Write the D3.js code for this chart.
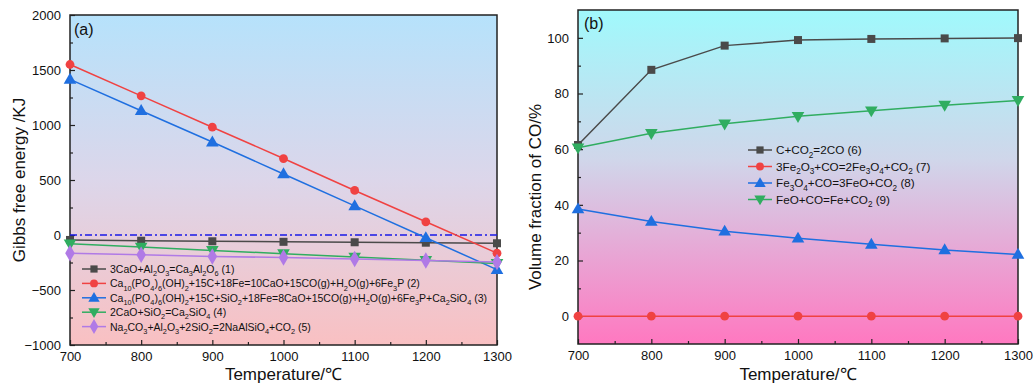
<!DOCTYPE html>
<html><head><meta charset="utf-8">
<script src="https://cdn.jsdelivr.net/npm/d3@7"></script>
<style>body{margin:0;background:#fff}text{font-family:"Liberation Sans",Arial,sans-serif;fill:#111}</style>
</head><body><svg id="c" width="1035" height="385"></svg>
<script>
const temps = [700, 800, 900, 1000, 1100, 1200, 1300];
// panel (a) Gibbs free energy /KJ
const gA1 = [-45, -52, -57, -62, -66, -70, -75];
const gA2 = [1550, 1265, 980, 695, 405, 120, -165];
const gA3 = [1415, 1130, 845, 555, 265, -25, -315];
const gA4 = [-80, -110, -140, -170, -200, -230, -258];
const gA5 = [-165, -180, -195, -205, -218, -232, -245];
const legendA = ["3CaO+Al_{2}O_{3}=Ca_{3}Al_{2}O_{6} (1)",
  "Ca_{10}(PO_{4})_{6}(OH)_{2}+15C+18Fe=10CaO+15CO(g)+H_{2}O(g)+6Fe_{3}P (2)",
  "Ca_{10}(PO_{4})_{6}(OH)_{2}+15C+SiO_{2}+18Fe=8CaO+15CO(g)+H_{2}O(g)+6Fe_{3}P+Ca_{2}SiO_{4} (3)",
  "2CaO+SiO_{2}=Ca_{2}SiO_{4} (4)",
  "Na_{2}CO_{3}+Al_{2}O_{3}+2SiO_{2}=2NaAlSiO_{4}+CO_{2} (5)"];
// panel (b) Volume fraction of CO /%
const vB6 = [61.5, 88.5, 97.2, 99.2, 99.6, 99.8, 99.9];
const vB7 = [0, 0, 0, 0, 0, 0, 0];
const vB8 = [38.5, 34, 30.5, 28, 25.8, 23.8, 22.2];
const vB9 = [60.5, 65.7, 69.1, 71.8, 73.8, 75.8, 77.5];
const legendB = ["C+CO_{2}=2CO (6)", "3Fe_{2}O_{3}+CO=2Fe_{3}O_{4}+CO_{2} (7)",
  "Fe_{3}O_{4}+CO=3FeO+CO_{2} (8)", "FeO+CO=Fe+CO_{2} (9)"];
const xTicks = [700, 800, 900, 1000, 1100, 1200, 1300];
const yTicksA = [-1000, -500, 0, 500, 1000, 1500, 2000];
const yTicksB = [0, 20, 40, 60, 80, 100];

const svg = d3.select("#c");
const defs = svg.append("defs");
function grad(id, stops) {
  const g = defs.append("linearGradient").attr("id", id).attr("x1", 0).attr("y1", 0).attr("x2", 0).attr("y2", 1);
  stops.forEach(s => g.append("stop").attr("offset", s[0]).attr("stop-color", s[1]));
}
grad("gA", [[0, "#b6e2fb"], [0.5, "#dcd6ea"], [1, "#f9c0c2"]]);
grad("gB", [[0, "#a0f9fc"], [0.45, "#d0d6ea"], [1, "#ff78c0"]]);

const colors = { grey: "#4a4a4a", red: "#f04242", blue: "#1f6fe0", green: "#30ad60", purple: "#b07ae6" };

function richText(sel, str, fs) {
  const parts = str.split(/(_\{[^}]*\})/);
  let sub = false;
  parts.forEach(p => {
    if (!p) return;
    if (p.startsWith("_{")) {
      sel.append("tspan").attr("dy", fs * 0.3).attr("font-size", fs * 0.7).text(p.slice(2, -1));
      sub = true;
    } else {
      const t = sel.append("tspan").attr("font-size", fs).text(p);
      if (sub) { t.attr("dy", -fs * 0.3); sub = false; }
    }
  });
}

function marker(g, shape, x, y, color, s) {
  if (shape === "square") g.append("rect").attr("x", x - s).attr("y", y - s).attr("width", 2 * s).attr("height", 2 * s).attr("fill", color);
  else if (shape === "circle") g.append("circle").attr("cx", x).attr("cy", y).attr("r", s * 1.1).attr("fill", color);
  else {
    const sym = { up: d3.symbolTriangle, down: d3.symbolTriangle, diamond: d3.symbolDiamond }[shape];
    const size = shape === "diamond" ? s * s * 5 : s * s * 4.3;
    g.append("path").attr("d", d3.symbol(sym, size)())
      .attr("transform", `translate(${x},${y + (shape === "up" ? 0.7 : shape === "down" ? -0.7 : 0)})` + (shape === "down" ? " rotate(180)" : ""))
      .attr("fill", color);
  }
}

function panel(cfg) {
  const { L, T, R, B, ydom, yTicks, series, legend, lx, ly, lstep, lfs, gid, ylabel, ylabY, ylabX, tag, tagXY, zeroLine, minorY } = cfg;
  const x = d3.scaleLinear().domain([700, 1300]).range([L, R]);
  const y = d3.scaleLinear().domain(ydom).range([B, T]);
  const g = svg.append("g");
  g.append("rect").attr("x", L).attr("y", T).attr("width", R - L).attr("height", B - T).attr("fill", `url(#${gid})`);
  const xa = g.append("g").attr("transform", `translate(0,${B})`)
    .call(d3.axisBottom(x).tickValues(xTicks).tickSizeInner(-5).tickSizeOuter(0).tickPadding(7).tickFormat(d3.format("d")));
  const xm = g.append("g").attr("transform", `translate(0,${B})`)
    .call(d3.axisBottom(x).tickValues(d3.range(750, 1300, 100)).tickSizeInner(-3).tickSizeOuter(0).tickFormat(""));
  const ya = g.append("g").attr("transform", `translate(${L},0)`)
    .call(d3.axisLeft(y).tickValues(yTicks).tickSizeInner(-5).tickSizeOuter(0).tickPadding(9).tickFormat(d3.format("d")));
  const ym = g.append("g").attr("transform", `translate(${L},0)`)
    .call(d3.axisLeft(y).tickValues(minorY).tickSizeInner(-3).tickSizeOuter(0).tickFormat(""));
  [xa, xm, ya, ym].forEach(a => { a.select(".domain").remove(); a.selectAll("line").attr("stroke", "#222").attr("stroke-width", 1.2); a.selectAll("text").attr("font-size", 13).attr("font-family", "Liberation Sans, Arial, sans-serif").attr("fill", "#111"); });
  g.append("rect").attr("x", L).attr("y", T).attr("width", R - L).attr("height", B - T).attr("fill", "none").attr("stroke", "#222").attr("stroke-width", 1.5);
  if (zeroLine) g.append("line").attr("x1", L).attr("x2", R).attr("y1", y(0)).attr("y2", y(0)).attr("stroke", "#1a1ae6").attr("stroke-width", 1.5).attr("stroke-dasharray", "7,3,2,3");
  const pg = g.append("g");
  series.forEach(s => {
    const line = d3.line().x((d, i) => x(temps[i])).y(d => y(d));
    pg.append("path").attr("d", line(s.v)).attr("fill", "none").attr("stroke", s.c).attr("stroke-width", 1.5);
    s.v.forEach((d, i) => marker(pg, s.m, x(temps[i]), y(d), s.c, 4));
  });
  legend.forEach((t, i) => {
    const s = series[i];
    const yy = ly + i * lstep;
    g.append("line").attr("x1", lx).attr("x2", lx + 24).attr("y1", yy).attr("y2", yy).attr("stroke", s.c).attr("stroke-width", 1.5);
    marker(g, s.m, lx + 12, yy, s.c, 3.6);
    richText(g.append("text").attr("x", lx + 28).attr("y", yy + 4), t, lfs);
  });
  g.append("text").attr("transform", `translate(${ylabX},${ylabY}) rotate(-90)`).attr("text-anchor", "middle").attr("font-size", 17).text(ylabel);
  g.append("text").attr("x", (L + R) / 2).attr("y", 380).attr("text-anchor", "middle").attr("font-size", 17).text("Temperature/℃");
  g.append("text").attr("x", tagXY[0]).attr("y", tagXY[1]).attr("font-size", 16).text(tag);
}

panel({ L: 70, T: 15, R: 497, B: 345, ydom: [-1000, 2000], yTicks: yTicksA, minorY: d3.range(-750, 2000, 500),
  series: [{ v: gA1, c: colors.grey, m: "square" }, { v: gA2, c: colors.red, m: "circle" }, { v: gA3, c: colors.blue, m: "up" },
    { v: gA4, c: colors.green, m: "down" }, { v: gA5, c: colors.purple, m: "diamond" }],
  legend: legendA, lx: 82, ly: 269, lstep: 14.4, lfs: 10.5, gid: "gA", ylabel: "Gibbs free energy /KJ", ylabY: 180, ylabX: 25,
  tag: "(a)", tagXY: [74, 35], zeroLine: true });
panel({ L: 578, T: 10, R: 1018, B: 344, ydom: [-10, 110], yTicks: yTicksB, minorY: d3.range(10, 110, 20),
  series: [{ v: vB6, c: colors.grey, m: "square" }, { v: vB7, c: colors.red, m: "circle" }, { v: vB8, c: colors.blue, m: "up" },
    { v: vB9, c: colors.green, m: "down" }],
  legend: legendB, lx: 748, ly: 150, lstep: 16.5, lfs: 11.7, gid: "gB", ylabel: "Volume fraction of CO/%", ylabY: 197, ylabX: 541,
  tag: "(b)", tagXY: [584, 29], zeroLine: false });
</script></body></html>
